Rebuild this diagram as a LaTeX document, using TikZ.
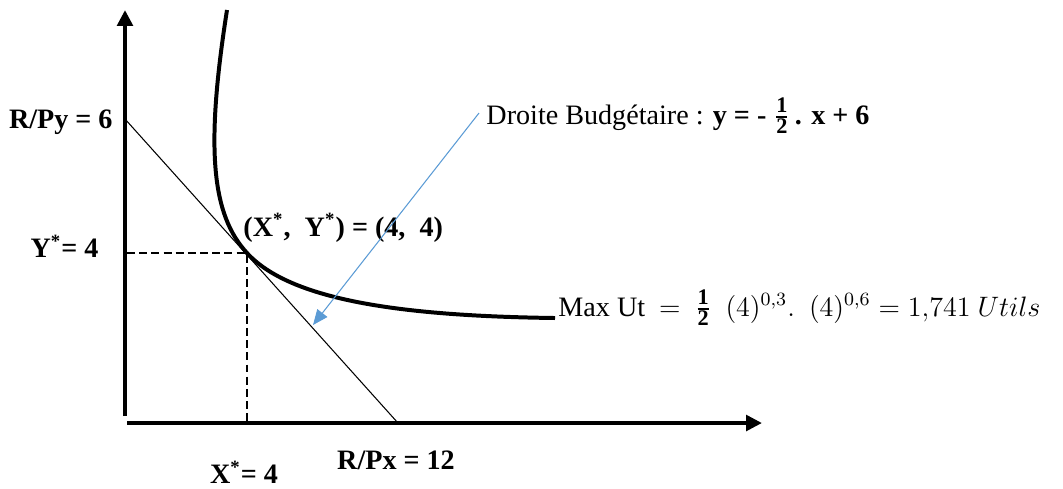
\documentclass[tikz,border=0pt]{standalone}
\usepackage{fontspec}
\setmainfont{Liberation Serif}
\usepackage{amsmath}
\usetikzlibrary{arrows.meta, calc}
\definecolor{lienbleu}{HTML}{5B9BD5}
\newcommand{\undemi}{\frac{\mbox{\fontsize{9.5}{10}\selectfont\bfseries 1}}{\mbox{\fontsize{9.5}{10}\selectfont\bfseries 2}}}
\tikzset{
  axe/.style   ={-{Triangle[length=6.8pt, width=6.6pt]}, line width=1.7pt, color=black},
  droite/.style={line width=0.45pt, color=black},
  courbe/.style={line width=1.7pt, color=black},
  pointil/.style={line width=0.9pt, dash pattern=on 3.4pt off 1.8pt, color=black},
  fleche/.style={-{Triangle[length=6.5pt, width=5.4pt]}, line width=0.45pt, color=lienbleu},
  lbl/.style   ={font=\fontsize{12}{14}\selectfont\bfseries, inner sep=0pt},
  txt/.style   ={font=\fontsize{12}{14}\selectfont, inner sep=0pt},
}
\begin{document}
\begin{tikzpicture}[x=0.015cm, y=-0.015cm]
  \useasboundingbox (0,0) rectangle (1063,488);
  % points du graphique
  \coordinate (O)    at (125,423);
  \coordinate (ybas) at (125,416);
  \coordinate (ytop) at (125,10);
  \coordinate (xbas) at (127,423);
  \coordinate (xend) at (762,423);
  \coordinate (A)    at (125,119);
  \coordinate (B)    at (398,423);
  \coordinate (E)    at (247,253);
  \coordinate (Ex)   at (247,423);
  \coordinate (Ey)   at (127,253);
  \coordinate (Chaut) at (227,10);
  \coordinate (Cfin)  at (555,318);
  % axes
  \draw[axe] (ybas) -- (ytop);
  \draw[axe] (xbas) -- (xend);
  % droite budgetaire
  \draw[droite] (A) -- (B);
  % pointilles vers l'optimum
  \draw[pointil] (Ey) -- (E) -- (Ex);
  % courbe d'indifference
  \draw[courbe] (Chaut) .. controls (205,150) and (212,215) .. (E)
                        .. controls (290,300) and (400,316) .. (Cfin);
  % etiquettes des axes
  \node[lbl, anchor=east] (rpy)   at (113,122) {R/Py = 6};
  \node[lbl, anchor=east] (ystar) at (99,246)  {Y\textsuperscript{*}= 4};
  \node[lbl] (rpx)   at (396,460) {R/Px = 12};
  \node[lbl] (xstar) at (244,472) {X\textsuperscript{*}= 4};
  \node[lbl, anchor=base west] (opt) at (243,236)
    {(X\textsuperscript{*},\ \ Y\textsuperscript{*}) = (4,\ \ 4)};
  % textes de droite
  \node[txt, anchor=base west] (budget) at (486,124)
    {Droite Budgétaire : \textbf{y = - $\undemi$\,. x + 6}};
  \node[txt, anchor=base west] (maxut) at (558,316)
    {Max Ut \ $=$ \ $\undemi\ \ (4)^{0{,}3}.\ \ (4)^{0{,}6} = 1{,}741\ Utils$};
  % fleche vers la droite budgetaire
  \coordinate (bdep) at (479,113);
  \coordinate (barr) at (313,325);
  \draw[fleche] (bdep) -- (barr);
\end{tikzpicture}
\end{document}
